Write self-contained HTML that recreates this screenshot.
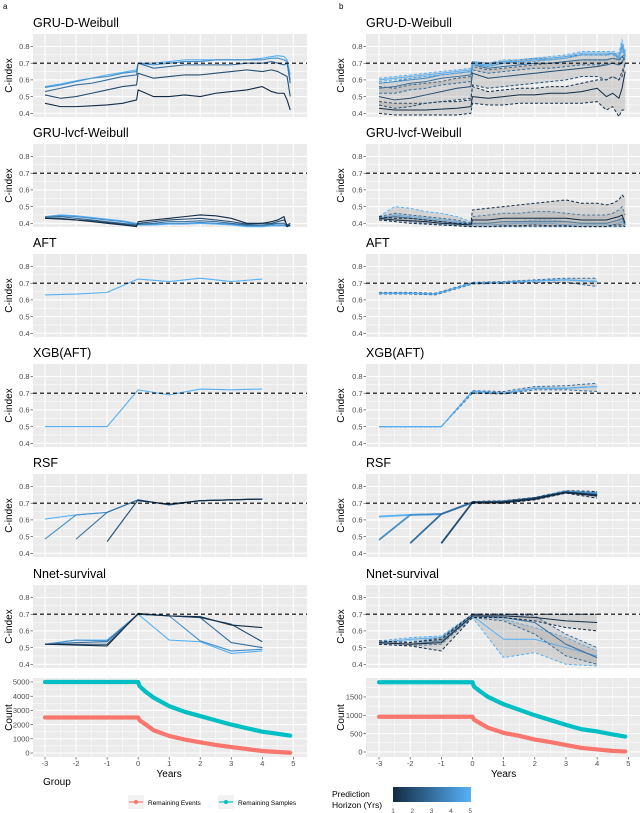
<!DOCTYPE html>
<html><head><meta charset="utf-8"><style>
html,body{margin:0;padding:0;background:#fff;}
svg{display:block;font-family:"Liberation Sans",Arial,sans-serif;}
</style></head><body>
<svg id="fig" width="640" height="813" viewBox="0 0 640 813" xmlns="http://www.w3.org/2000/svg">
<defs>
<clipPath id="clipL"><rect x="33" y="0" width="274" height="813"/></clipPath>
<clipPath id="clipR"><rect x="366" y="0" width="274" height="813"/></clipPath>
<linearGradient id="hgrad" x1="0" x2="1" y1="0" y2="0"><stop offset="0" stop-color="#132B43"/><stop offset="1" stop-color="#56B1F7"/></linearGradient>
</defs>
<text x="3" y="9" font-size="8">a</text>
<text x="339" y="9" font-size="8">b</text>
</svg>
<script>
// ---------- data ----------
const years = [-3,-2,-1,0,1,2,3,4,5];
const cTicks = [0.4,0.5,0.6,0.7,0.8];
const titles = ["GRU-D-Weibull","GRU-lvcf-Weibull","AFT","XGB(AFT)","RSF","Nnet-survival"];
const gruX = [-3,-2.5,-2,-1.5,-1,-0.5,-0.05,0,0.5,1,1.5,2,2.5,3,3.5,4,4.3,4.5,4.7,4.8,4.9];
// Left GRU-D (horizons 1..5)
const grudL1 = [0.46,0.44,0.44,0.445,0.45,0.46,0.48,0.54,0.50,0.50,0.51,0.50,0.52,0.53,0.54,0.56,0.53,0.52,0.52,0.48,0.42];
const grudL2 = [0.51,0.49,0.50,0.52,0.54,0.56,0.57,0.64,0.61,0.62,0.63,0.63,0.64,0.65,0.66,0.65,0.66,0.65,0.63,0.62,0.50];
const grudL3 = [0.53,0.55,0.57,0.58,0.60,0.62,0.63,0.70,0.67,0.68,0.69,0.69,0.69,0.69,0.70,0.70,0.71,0.70,0.69,0.70,0.58];
const grudL4 = [0.555,0.57,0.59,0.61,0.62,0.64,0.65,0.70,0.69,0.70,0.71,0.71,0.72,0.72,0.72,0.72,0.73,0.73,0.72,0.71,0.60];
const grudL5 = [0.56,0.575,0.595,0.61,0.63,0.645,0.66,0.70,0.70,0.71,0.72,0.72,0.72,0.72,0.72,0.73,0.74,0.745,0.74,0.72,0.63];
// Left GRU-lvcf
const lvcfL1 = [0.43,0.425,0.42,0.41,0.40,0.39,0.38,0.41,0.42,0.43,0.44,0.45,0.445,0.43,0.40,0.40,0.41,0.42,0.44,0.38,0.39];
const lvcfL2 = [0.43,0.43,0.42,0.415,0.405,0.395,0.385,0.40,0.41,0.42,0.425,0.43,0.42,0.41,0.395,0.40,0.40,0.41,0.42,0.39,0.40];
const lvcfL3 = [0.435,0.44,0.43,0.42,0.41,0.40,0.39,0.395,0.40,0.41,0.41,0.415,0.41,0.40,0.39,0.39,0.395,0.40,0.40,0.385,0.40];
const lvcfL4 = [0.44,0.445,0.44,0.43,0.42,0.41,0.395,0.39,0.395,0.40,0.40,0.405,0.40,0.395,0.385,0.385,0.39,0.39,0.39,0.38,0.39];
const lvcfL5 = [0.44,0.45,0.445,0.435,0.425,0.415,0.40,0.39,0.39,0.395,0.395,0.40,0.395,0.39,0.38,0.38,0.385,0.385,0.385,0.38,0.385];
// Right GRU-D (mean / lower / upper)
const grudR1m = [0.43,0.42,0.42,0.42,0.425,0.43,0.44,0.50,0.49,0.50,0.51,0.51,0.52,0.52,0.53,0.55,0.50,0.52,0.49,0.55,0.65];
const grudR1lo = [0.40,0.39,0.39,0.39,0.39,0.39,0.40,0.46,0.45,0.45,0.46,0.46,0.46,0.46,0.46,0.47,0.42,0.44,0.38,0.42,0.42];
const grudR1hi = [0.47,0.46,0.46,0.46,0.47,0.47,0.48,0.56,0.53,0.54,0.55,0.55,0.56,0.56,0.58,0.60,0.60,0.62,0.60,0.65,0.70];
const grudR2m = [0.50,0.48,0.49,0.51,0.53,0.55,0.56,0.64,0.61,0.62,0.63,0.64,0.65,0.66,0.67,0.68,0.69,0.70,0.69,0.70,0.75];
const grudR2lo = [0.45,0.43,0.44,0.46,0.47,0.48,0.49,0.57,0.55,0.56,0.57,0.58,0.59,0.60,0.62,0.62,0.60,0.62,0.60,0.62,0.70];
const grudR2hi = [0.56,0.55,0.57,0.58,0.59,0.61,0.62,0.68,0.66,0.67,0.68,0.69,0.70,0.71,0.72,0.72,0.72,0.73,0.72,0.73,0.78];
const grudR3m = [0.55,0.56,0.58,0.59,0.61,0.62,0.63,0.69,0.67,0.68,0.69,0.70,0.70,0.71,0.72,0.72,0.72,0.73,0.72,0.74,0.72];
const grudR3lo = [0.52,0.52,0.54,0.55,0.57,0.58,0.59,0.66,0.64,0.65,0.66,0.67,0.67,0.68,0.69,0.69,0.69,0.70,0.69,0.71,0.69];
const grudR3hi = [0.58,0.59,0.61,0.62,0.63,0.64,0.65,0.71,0.70,0.71,0.72,0.73,0.73,0.74,0.75,0.75,0.75,0.76,0.75,0.80,0.76];
const grudR4m = [0.58,0.59,0.60,0.61,0.63,0.64,0.65,0.70,0.68,0.70,0.71,0.72,0.72,0.73,0.75,0.75,0.75,0.76,0.73,0.80,0.74];
const grudR5m = [0.60,0.61,0.62,0.63,0.64,0.65,0.66,0.70,0.69,0.71,0.71,0.72,0.73,0.74,0.76,0.76,0.76,0.76,0.74,0.82,0.75];
const grudR5lo = [0.59,0.60,0.61,0.62,0.63,0.64,0.65,0.69,0.68,0.70,0.70,0.71,0.72,0.73,0.75,0.75,0.75,0.75,0.72,0.78,0.73];
const grudR5hi = [0.61,0.62,0.63,0.64,0.65,0.66,0.67,0.71,0.70,0.72,0.72,0.73,0.74,0.75,0.77,0.77,0.77,0.77,0.76,0.84,0.77];
// Right GRU-lvcf
const lvcfR1m = [0.43,0.42,0.415,0.41,0.40,0.395,0.39,0.42,0.42,0.43,0.43,0.43,0.43,0.43,0.42,0.42,0.42,0.43,0.44,0.45,0.40];
const lvcfR1lo = [0.42,0.41,0.40,0.395,0.39,0.385,0.38,0.38,0.38,0.385,0.385,0.39,0.385,0.385,0.38,0.38,0.38,0.39,0.39,0.39,0.38];
const lvcfR1hi = [0.44,0.43,0.43,0.42,0.41,0.40,0.40,0.48,0.49,0.50,0.51,0.52,0.53,0.54,0.52,0.52,0.51,0.52,0.54,0.57,0.55];
const lvcfR3m = [0.43,0.44,0.43,0.42,0.41,0.40,0.39,0.40,0.40,0.41,0.41,0.41,0.41,0.41,0.40,0.40,0.40,0.41,0.42,0.43,0.39];
const lvcfR3lo = [0.42,0.42,0.41,0.40,0.39,0.385,0.38,0.38,0.38,0.38,0.38,0.38,0.38,0.38,0.38,0.38,0.38,0.38,0.38,0.38,0.38];
const lvcfR3hi = [0.44,0.46,0.45,0.44,0.43,0.42,0.40,0.44,0.45,0.46,0.46,0.47,0.47,0.46,0.45,0.45,0.45,0.46,0.48,0.50,0.45];
const lvcfR5m = [0.43,0.45,0.44,0.43,0.42,0.41,0.395,0.39,0.39,0.395,0.40,0.40,0.40,0.39,0.39,0.39,0.39,0.39,0.40,0.41,0.39];
const lvcfR5lo = [0.42,0.42,0.41,0.40,0.395,0.39,0.38,0.38,0.38,0.38,0.38,0.38,0.38,0.38,0.38,0.38,0.38,0.38,0.38,0.38,0.38];
const lvcfR5hi = [0.44,0.50,0.49,0.47,0.46,0.44,0.41,0.40,0.40,0.41,0.41,0.42,0.42,0.41,0.40,0.40,0.40,0.41,0.42,0.43,0.40];
// AFT
const intX = [-3,-2,-1,0,1,2,3,4];
const aftL = [0.63,0.635,0.645,0.725,0.71,0.73,0.71,0.725];
const aftRX = [-3,-2,-1.2,-1,0,1,2,3,4];
const aftRm = [0.64,0.64,0.635,0.645,0.70,0.705,0.715,0.72,0.71];
const aftRlo = [0.635,0.635,0.63,0.64,0.695,0.70,0.705,0.705,0.68];
const aftRhi = [0.645,0.645,0.64,0.65,0.705,0.71,0.72,0.73,0.73];
// XGB(AFT)
const xgbL = [0.50,0.50,0.50,0.72,0.69,0.725,0.72,0.725];
const xgbRm = [0.50,0.50,0.50,0.71,0.70,0.73,0.73,0.74];
const xgbRlo = [0.50,0.50,0.50,0.70,0.695,0.72,0.72,0.71];
const xgbRhi = [0.50,0.50,0.50,0.715,0.71,0.74,0.745,0.76];
// RSF
const rsfL5 = [0.605,0.63,0.645,0.72,0.69,0.715,0.72,0.725];
const rsfL4 = [0.485,0.63,0.645,0.72,0.69,0.715,0.72,0.725];
const rsfL3 = [null,0.485,0.645,0.72,0.69,0.715,0.72,0.725];
const rsfL2 = [null,null,0.47,0.72,0.69,0.715,0.72,0.725];
const rsfL1 = [null,null,null,0.715,0.695,0.715,0.72,0.725];
const rsfR5 = [0.62,0.63,0.635,0.705,0.71,0.73,0.77,0.76];
const rsfR4 = [0.48,0.63,0.635,0.705,0.71,0.73,0.77,0.76];
const rsfR3 = [null,0.46,0.635,0.705,0.71,0.73,0.765,0.75];
const rsfR2 = [null,null,0.46,0.705,0.705,0.73,0.765,0.75];
const rsfR1 = [null,null,null,0.705,0.705,0.725,0.765,0.745];
const rsfRlo = [null,null,null,0.70,0.70,0.72,0.76,0.73];
const rsfRhi = [null,null,null,0.71,0.715,0.735,0.775,0.77];
// Nnet-survival
const nnL5 = [0.52,0.545,0.545,0.70,0.545,0.535,0.465,0.48];
const nnL4 = [0.52,0.545,0.54,0.70,0.69,0.54,0.48,0.49];
const nnL3 = [0.52,0.53,0.535,0.70,0.69,0.68,0.53,0.50];
const nnL2 = [0.52,0.52,0.52,0.70,0.69,0.68,0.64,0.535];
const nnL1 = [0.52,0.515,0.51,0.705,0.69,0.685,0.635,0.62];
const nnR5m = [0.53,0.55,0.56,0.69,0.55,0.55,0.50,0.45];
const nnR5lo = [0.52,0.54,0.54,0.68,0.44,0.47,0.40,0.39];
const nnR5hi = [0.54,0.56,0.57,0.70,0.67,0.62,0.56,0.48];
const nnR3m = [0.53,0.52,0.54,0.69,0.68,0.65,0.52,0.44];
const nnR3lo = [0.52,0.51,0.52,0.68,0.66,0.58,0.45,0.40];
const nnR3hi = [0.54,0.53,0.56,0.70,0.70,0.69,0.58,0.50];
const nnR1m = [0.53,0.52,0.53,0.69,0.69,0.68,0.66,0.65];
const nnR1lo = [0.52,0.51,0.48,0.68,0.68,0.66,0.62,0.60];
const nnR1hi = [0.54,0.53,0.55,0.70,0.70,0.70,0.70,0.70];
// Counts
const cntX = [-3,-2,-1,0,0.05,0.25,0.5,1,1.5,2,2.5,3,3.5,4,4.5,4.9];
const samplesL = [5000,5000,5000,5000,4700,4300,3900,3300,2900,2600,2300,2000,1750,1500,1350,1220];
const eventsL = [2500,2500,2500,2500,2300,2000,1600,1200,950,750,570,420,280,140,70,20];
const samplesR = [1900,1900,1900,1900,1780,1650,1500,1300,1150,1000,870,740,620,560,480,420];
const eventsR = [960,960,960,960,880,780,660,520,440,340,270,190,110,70,30,15];
const countTicksL = [0,1000,2000,3000,4000,5000];
const countTicksR = [0,500,1000,1500];
const horizons = [1,2,3,4,5];

// ---------- layout ----------
const NS = "http://www.w3.org/2000/svg";
const svg = document.getElementById("fig");
const SIDES = {L:{x0:45,k:31.04,left:33,right:307,lab:29,title:9,clip:"url(#clipL)"},
               R:{x0:379,k:31.16,left:366,right:640,lab:362,title:341,clip:"url(#clipR)"}};
const TOPS = [34,144,254,364,474,585];
const PH = 83;
function sx(s, yr){ return SIDES[s].x0 + (yr+3)*SIDES[s].k; }
function cy(top, v){ return top + 12.5 + (0.8 - v)*167; }
function hcol(h){ const t=(h-1)/4; const a=[0x13,0x2B,0x43], b=[0x56,0xB1,0xF7];
  return "rgb("+a.map((c,i)=>Math.round(c+(b[i]-c)*t)).join(",")+")"; }
function el(tag, attrs, parent){ const e=document.createElementNS(NS,tag); for(const k in attrs) e.setAttribute(k,attrs[k]); (parent||svg).appendChild(e); return e; }
function txt(str, attrs, parent){ const e=el("text",attrs,parent); e.textContent=str; return e; }
function pathD(s, xs, ys, yf){ let d="", pen=false; for(let i=0;i<xs.length;i++){ if(ys[i]==null){pen=false;continue;} d+=(pen?"L":"M")+sx(s,xs[i]).toFixed(2)+","+yf(ys[i]).toFixed(2); pen=true;} return d; }

function frame(s, top, h, ticks, yf, minorTicks, fmt, ytitle){
  const S=SIDES[s];
  const g=el("g",{});
  
  
  el("rect",{x:S.left,y:top,width:S.right-S.left,height:h,fill:"#EBEBEB"},g);
  minorTicks.forEach(v=>{ el("line",{x1:S.left,x2:S.right,y1:yf(v),y2:yf(v),stroke:"#fff","stroke-width":0.5},g); });
  for(let yr=-3.5; yr<=5.5; yr+=1){ const x=sx(s,yr); if(x>S.left&&x<S.right) el("line",{x1:x,x2:x,y1:top,y2:top+h,stroke:"#fff","stroke-width":0.5},g); }
  ticks.forEach(v=>{ el("line",{x1:S.left,x2:S.right,y1:yf(v),y2:yf(v),stroke:"#fff","stroke-width":1.1},g); });
  years.forEach(yr=>{ const x=sx(s,yr); el("line",{x1:x,x2:x,y1:top,y2:top+h,stroke:"#fff","stroke-width":1.1},g); });
  ticks.forEach(v=>{
    el("line",{x1:S.left-2.5,x2:S.left,y1:yf(v),y2:yf(v),stroke:"#333","stroke-width":0.6},g);
    const t=txt(fmt(v),{x:S.left-3.5,y:yf(v)+2.7,"font-size":7.5,fill:"#4D4D4D","text-anchor":"end"},g);
    
    
  });
  const yt=txt(ytitle,{x:0,y:0,"font-size":10,fill:"#000","text-anchor":"middle",transform:"translate("+(S.title+3)+","+(top+h/2)+") rotate(-90)"},g);
  
  
  return g;
}
function line(s, xs, ys, yf, color, w, dash, parent){
  const p=el("path",{d:pathD(s,xs,ys,yf),fill:"none",stroke:color,"stroke-width":w,"stroke-linejoin":"round","clip-path":SIDES[s].clip},parent);
  if(dash) p.setAttribute("stroke-dasharray",dash);
  
  
  return p;
}
function ribbon(s, xs, lo, hi, yf, parent){
  let pts=[];
  for(let i=0;i<xs.length;i++) if(lo[i]!=null) pts.push(sx(s,xs[i]).toFixed(2)+","+yf(hi[i]).toFixed(2));
  for(let i=xs.length-1;i>=0;i--) if(lo[i]!=null) pts.push(sx(s,xs[i]).toFixed(2)+","+yf(lo[i]).toFixed(2));
  const p=el("polygon",{points:pts.join(" "),fill:"#999","fill-opacity":0.3,"clip-path":SIDES[s].clip},parent);
  
  
}
function band(s, xs, m, lo, hi, h, yf, parent){
  ribbon(s,xs,lo,hi,yf,parent);
  line(s,xs,lo,yf,hcol(h),1,"3,2",parent);
  line(s,xs,hi,yf,hcol(h),1,"3,2",parent);
  line(s,xs,m,yf,hcol(h),1,null,parent);
}
function refLine(s, top, parent){
  const S=SIDES[s]; const y=cy(top,0.7);
  const l=el("line",{x1:S.left,x2:S.right,y1:y,y2:y,stroke:"#000","stroke-width":1.1,"stroke-dasharray":"4,3"},parent);
  
  
}

const fmt1 = v=>v.toFixed(1);
const minorC = [0.45,0.55,0.65,0.75];
const panels = [
 {L:()=>{const f=v=>cy(TOPS[0],v); [grudL5,grudL4,grudL3,grudL2,grudL1].forEach((a,i)=>line("L",gruX,a,f,hcol(5-i),1.1));},
  R:()=>{const f=v=>cy(TOPS[0],v);
    band("R",gruX,grudR1m,grudR1lo,grudR1hi,1,f); band("R",gruX,grudR2m,grudR2lo,grudR2hi,2,f);
    band("R",gruX,grudR3m,grudR3lo,grudR3hi,3,f); line("R",gruX,grudR4m,f,hcol(4),1);
    band("R",gruX,grudR5m,grudR5lo,grudR5hi,5,f);}},
 {L:()=>{const f=v=>cy(TOPS[1],v); [lvcfL5,lvcfL4,lvcfL3,lvcfL2,lvcfL1].forEach((a,i)=>line("L",gruX,a,f,hcol(5-i),1.1));},
  R:()=>{const f=v=>cy(TOPS[1],v);
    band("R",gruX,lvcfR5m,lvcfR5lo,lvcfR5hi,5,f); band("R",gruX,lvcfR3m,lvcfR3lo,lvcfR3hi,3,f);
    band("R",gruX,lvcfR1m,lvcfR1lo,lvcfR1hi,1,f);}},
 {L:()=>{const f=v=>cy(TOPS[2],v); line("L",intX,aftL,f,hcol(5),1.1);},
  R:()=>{const f=v=>cy(TOPS[2],v); band("R",aftRX,aftRm,aftRlo,aftRhi,3,f); line("R",aftRX,aftRm,f,hcol(5),1.2);}},
 {L:()=>{const f=v=>cy(TOPS[3],v); line("L",intX,xgbL,f,hcol(5),1.1);},
  R:()=>{const f=v=>cy(TOPS[3],v); band("R",intX,xgbRm,xgbRlo,xgbRhi,3,f); line("R",intX,xgbRm,f,hcol(5),1.2);}},
 {L:()=>{const f=v=>cy(TOPS[4],v); [rsfL5,rsfL4,rsfL3,rsfL2,rsfL1].forEach((a,i)=>line("L",intX,a,f,hcol(5-i),1.1));},
  R:()=>{const f=v=>cy(TOPS[4],v); ribbon("R",intX,rsfRlo,rsfRhi,f);
    line("R",intX,rsfRlo,f,hcol(1),1,"3,2"); line("R",intX,rsfRhi,f,hcol(1),1,"3,2");
    [rsfR5,rsfR4,rsfR3,rsfR2,rsfR1].forEach((a,i)=>line("R",intX,a,f,hcol(5-i),1.8));}},
 {L:()=>{const f=v=>cy(TOPS[5],v); [nnL5,nnL4,nnL3,nnL2,nnL1].forEach((a,i)=>line("L",intX,a,f,hcol(5-i),1.1));},
  R:()=>{const f=v=>cy(TOPS[5],v);
    band("R",intX,nnR5m,nnR5lo,nnR5hi,5,f); band("R",intX,nnR3m,nnR3lo,nnR3hi,3,f);
    band("R",intX,nnR1m,nnR1lo,nnR1hi,1,f);}}
];

titles.forEach((t,i)=>{
  ["L","R"].forEach(s=>{
    const S=SIDES[s];
    frame(s,TOPS[i],PH,cTicks,v=>cy(TOPS[i],v),minorC,fmt1,"C-index");
    const tt=txt(t,{x:S.left,y:TOPS[i]-7,"font-size":12.5,fill:"#000"});
    
    
    panels[i][s]();
    refLine(s,TOPS[i]);
  });
});

// ---------- count panels ----------
const CT=678, CH=79;
const cyL = v=>753 - v*0.0142;
const cyR = v=>752 - v*0.0367;
frame("L",CT,CH,countTicksL,cyL,[500,1500,2500,3500,4500],v=>String(v),"Count");
frame("R",CT,CH,countTicksR,cyR,[250,750,1250,1750],v=>String(v),"Count");
[["L",cyL,samplesL,eventsL],["R",cyR,samplesR,eventsR]].forEach(([s,f,sa,ev])=>{
  const a=line(s,cntX,sa,f,"#00BFC4",4.2); a.setAttribute("stroke-linecap","round");
  
  const b=line(s,cntX,ev,f,"#F8766D",4.2); b.setAttribute("stroke-linecap","round");
  
  years.forEach(yr=>{
    const x=sx(s,yr);
    el("line",{x1:x,x2:x,y1:CT+CH,y2:CT+CH+2.5,stroke:"#333","stroke-width":0.6});
    const t=txt(String(yr),{x:x,y:766,"font-size":7.5,fill:"#4D4D4D","text-anchor":"middle"});
    
    
  });
  const xt=txt("Years",{x:sx(s,1),y:777,"font-size":10,fill:"#000","text-anchor":"middle"});
  
  
});

// ---------- legends ----------
const lg=el("g",{});


txt("Group",{x:43,y:785,"font-size":10,fill:"#000"},lg);
el("rect",{x:128,y:795,width:16,height:14,fill:"#F2F2F2"},lg);
el("line",{x1:129,x2:143,y1:802,y2:802,stroke:"#F8766D","stroke-width":1.2},lg);
el("circle",{cx:136,cy:802,r:2,fill:"#F8766D"},lg);
txt("Remaining Events",{x:148,y:805,"font-size":6.5,fill:"#000"},lg);
el("rect",{x:218,y:795,width:16,height:14,fill:"#F2F2F2"},lg);
el("line",{x1:219,x2:233,y1:802,y2:802,stroke:"#00BFC4","stroke-width":1.2},lg);
el("circle",{cx:226,cy:802,r:2,fill:"#00BFC4"},lg);
txt("Remaining Samples",{x:238,y:805,"font-size":6.5,fill:"#000"},lg);

const hg=el("g",{});


txt("Prediction",{x:332,y:797,"font-size":8.5,fill:"#000"},hg);
txt("Horizon (Yrs)",{x:332,y:808,"font-size":8.5,fill:"#000"},hg);
el("rect",{x:393,y:787,width:78,height:15,fill:"url(#hgrad)"},hg);
horizons.forEach(h=>{
  const x=393+(h-1)*19.3;
  const t=txt(String(h),{x:x,y:813,"font-size":6.5,fill:"#4D4D4D","text-anchor":"middle"},hg);
  
  
});
</script>
</body></html>
